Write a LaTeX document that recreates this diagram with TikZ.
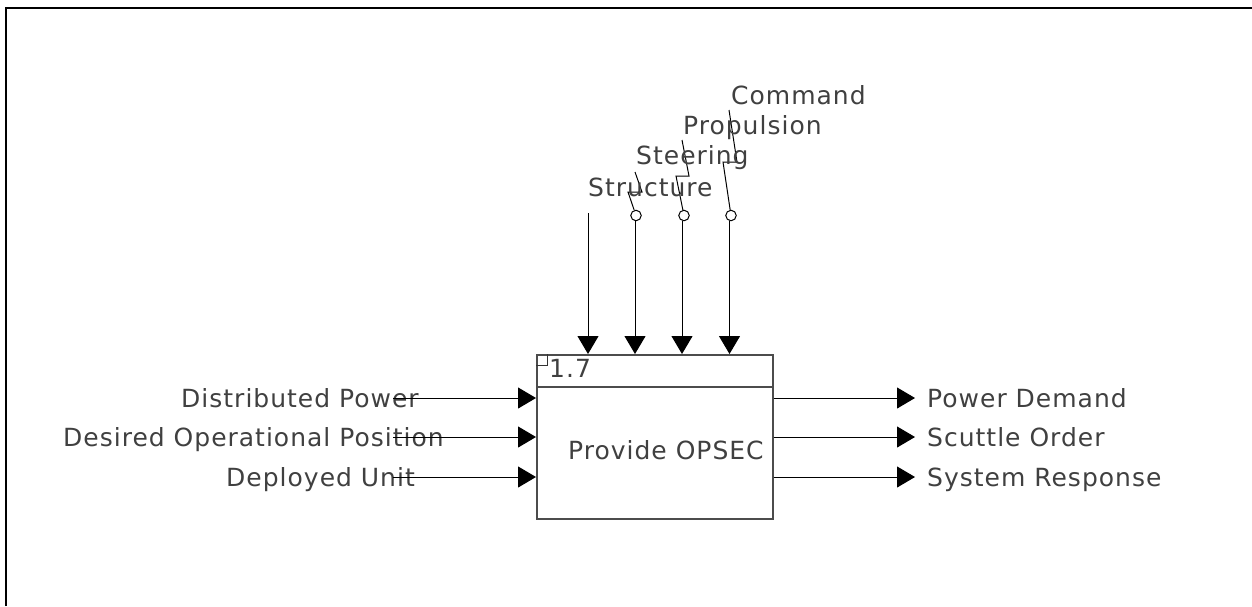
\documentclass[tikz,border=0pt]{standalone}
\usepackage{fontspec}
\setmainfont{DejaVu Sans}[LetterSpace=4]
\usetikzlibrary{arrows.meta}
\begin{document}
\begin{tikzpicture}[x=1pt,y=-1pt,
  lbl/.style={anchor=base west,inner sep=0pt,text=black!75,font=\fontsize{25}{30}\selectfont},
  arr/.style={line width=1pt,-{Triangle[length=18pt,width=21pt]}},
  ln/.style={line width=1pt},
  tun/.style={circle,draw,line width=1pt,minimum size=10.5pt,inner sep=0pt}]
\useasboundingbox (0,0) rectangle (1252,606);
% frame
\draw[line width=2pt] (6,606) -- (6,8) -- (1252,8);
% box
\node[draw=black!70,line width=1.5pt,minimum width=236pt,minimum height=164pt,inner sep=0pt,anchor=north west] (box) at (536,354) {};
\draw[black!70,line width=1.5pt] (box.west |- 0,387) coordinate (dl) -- (box.east |- 0,387) coordinate (dr);
\draw[black!80,line width=1pt] (536,365) -- (547,365) -- (547,354);
\node[lbl] (num) at (549,377) {1.7};
\node[lbl] (title) at (568,459) {Provide OPSEC};
% controls
\coordinate (c0) at (588,213);
\node[tun] (t1) at (636,215.5) {};
\node[tun] (t2) at (684,215.5) {};
\node[tun] (t3) at (731,215.5) {};
\coordinate (c1) at (635,221);
\coordinate (c2) at (682,221);
\coordinate (c3) at (729.5,221);
\draw[arr] (c0) -- (c0 |- box.north);
\draw[arr] (c1) -- (c1 |- box.north);
\draw[arr] (c2) -- (c2 |- box.north);
\draw[arr] (c3) -- (c3 |- box.north);
\draw[ln] (t1) -- (628,192) -- (642,192) -- (635,172);
\draw[ln] (t2) -- (676,176) -- (689,176) -- (682,140);
\draw[ln] (t3) -- (723,162) -- (737,162) -- (729,110);
\node[lbl] (lc0) at (588,196) {Structure};
\node[lbl] (lc1) at (636,164) {Steering};
\node[lbl] (lc2) at (683,134) {Propulsion};
\node[lbl] (lc3) at (731,104) {Command};
% inputs
\coordinate (i1) at (393,398);
\coordinate (i2) at (393,437);
\coordinate (i3) at (393,477);
\node[lbl] (li1) at (181,407.5) {Distributed Power};
\node[lbl] (li2) at (63,446.5) {Desired Operational Position};
\node[lbl] (li3) at (226,486.5) {Deployed Unit};
\draw[arr] (i1) -- (i1 -| box.west);
\draw[arr] (i2) -- (i2 -| box.west);
\draw[arr] (i3) -- (i3 -| box.west);
% outputs
\coordinate (o1) at (915,398);
\coordinate (o2) at (915,437);
\coordinate (o3) at (915,477);
\draw[arr] (o1 -| box.east) -- (o1);
\draw[arr] (o2 -| box.east) -- (o2);
\draw[arr] (o3 -| box.east) -- (o3);
\node[lbl] (lo1) at (927,407.5) {Power Demand};
\node[lbl] (lo2) at (927,446.5) {Scuttle Order};
\node[lbl] (lo3) at (927,486.5) {System Response};
\end{tikzpicture}
\end{document}
